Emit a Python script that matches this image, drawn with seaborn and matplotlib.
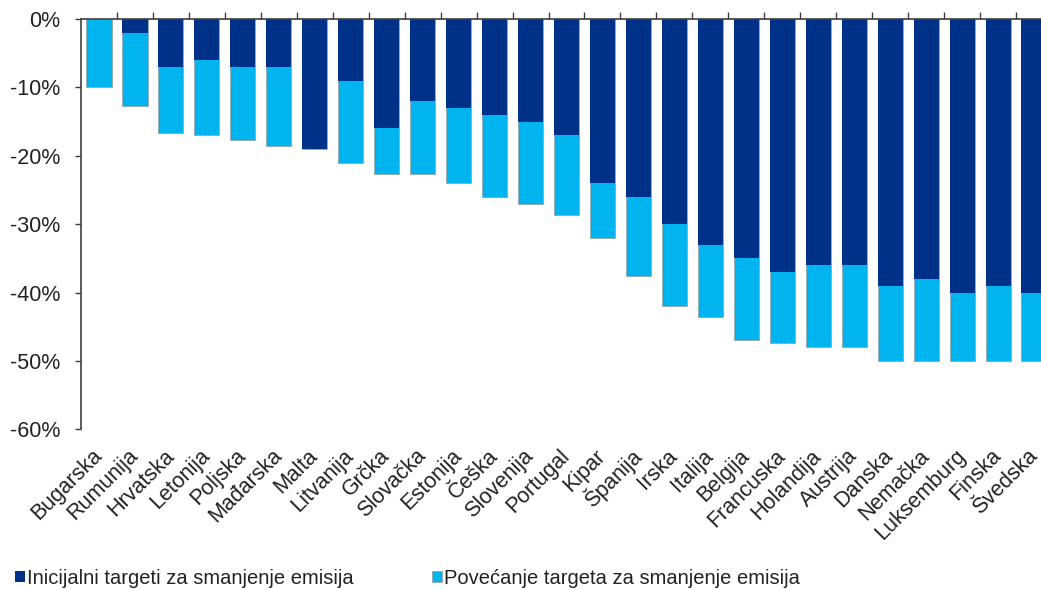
import numpy as np
import pandas as pd
import matplotlib
matplotlib.use("Agg")
import matplotlib.pyplot as plt
from matplotlib.ticker import FixedLocator, FuncFormatter
import seaborn as sns

countries = ["Bugarska", "Rumunija", "Hrvatska", "Letonija", "Poljska", "Mađarska",
             "Malta", "Litvanija", "Grčka", "Slovačka", "Estonija", "Češka",
             "Slovenija", "Portugal", "Kipar", "Španija", "Irska", "Italija",
             "Belgija", "Francuska", "Holandija", "Austrija", "Danska", "Nemačka",
             "Luksemburg", "Finska", "Švedska"]

# initial emission-reduction targets (%)
initial = [0, -2, -7, -6, -7, -7, -19, -9, -16, -12, -13, -14, -15, -17,
           -24, -26, -30, -33, -35, -37, -36, -36, -39, -38, -40, -39, -40]
# additional tightening on top of the initial target (%)
increase = [-10, -10.7, -9.7, -11, -10.7, -11.6, 0, -12, -6.6, -10.6, -11, -12,
            -12, -11.7, -8, -11.6, -12, -10.6, -12, -10.4, -12, -12, -11, -12,
            -10, -11, -10]

label_initial = "Inicijalni targeti za smanjenje emisija"
label_increase = "Povećanje targeta za smanjenje emisija"

dark = "#003189"
light = "#00B5EF"

sns.set_style("white")
plt.rcParams["font.family"] = ["Liberation Sans", "DejaVu Sans"]
plt.rcParams["axes.unicode_minus"] = False

df = pd.DataFrame({
    "country": countries,
    "initial": initial,
    "total": np.array(initial) + np.array(increase),
})

fig = plt.figure(figsize=(10.41, 5.90), dpi=100)
ax = fig.add_axes([0.0778, 0.2724, 0.9328, 0.6954])

# full bar (initial + increase) in light blue, initial part drawn over it in navy
sns.barplot(data=df, x="country", y="total", color=light, width=0.7,
            saturation=1, edgecolor="#9a9a9a", linewidth=0.5,
            label=label_increase, ax=ax)
sns.barplot(data=df, x="country", y="initial", color=dark, width=0.7,
            saturation=1, linewidth=0, label=label_initial, ax=ax)

ax.set_xlim(-0.5, len(countries) - 0.5)
ax.set_ylim(-60, 0)
ax.set_xlabel("")
ax.set_ylabel("")

ax.set_yticks(np.arange(-60, 1, 10))
ax.yaxis.set_major_formatter(FuncFormatter(lambda v, p: f"{v:.0f}%" if v != 0 else "0%"))
ax.tick_params(axis="y", left=True, direction="out", length=4, width=1,
               color="#404040", pad=11, labelsize=15.5, labelcolor="#222222")

# category separators as small ticks above the zero line
ax.xaxis.set_minor_locator(FixedLocator(np.arange(0.5, len(countries) - 0.5, 1)))
ax.tick_params(axis="x", which="minor", top=True, bottom=False, direction="out",
               length=5, width=1, color="#404040")
ax.tick_params(axis="x", which="major", bottom=False, top=False, length=0,
               pad=17, labelsize=15.5, labelcolor="#222222")
for lab in ax.get_xticklabels():
    lab.set_rotation(45)
    lab.set_ha("right")
    lab.set_va("center")
    lab.set_rotation_mode("anchor")

for side in ["right", "bottom"]:
    ax.spines[side].set_visible(False)
for side in ["left", "top"]:
    ax.spines[side].set_color("#404040")
    ax.spines[side].set_linewidth(1.2)

if ax.get_legend() is not None:
    ax.get_legend().remove()
handles, labels = ax.get_legend_handles_labels()
order = [labels.index(label_initial), labels.index(label_increase)]
fig.legend([handles[i] for i in order], [labels[i] for i in order],
           loc="lower left", bbox_to_anchor=(-0.003, -0.027), ncol=2, frameon=False,
           handlelength=0.5, handleheight=0.5, handletextpad=0.12,
           columnspacing=3.85, fontsize=14.5, labelcolor="#222222")

fig.savefig("out.png", dpi=100)
